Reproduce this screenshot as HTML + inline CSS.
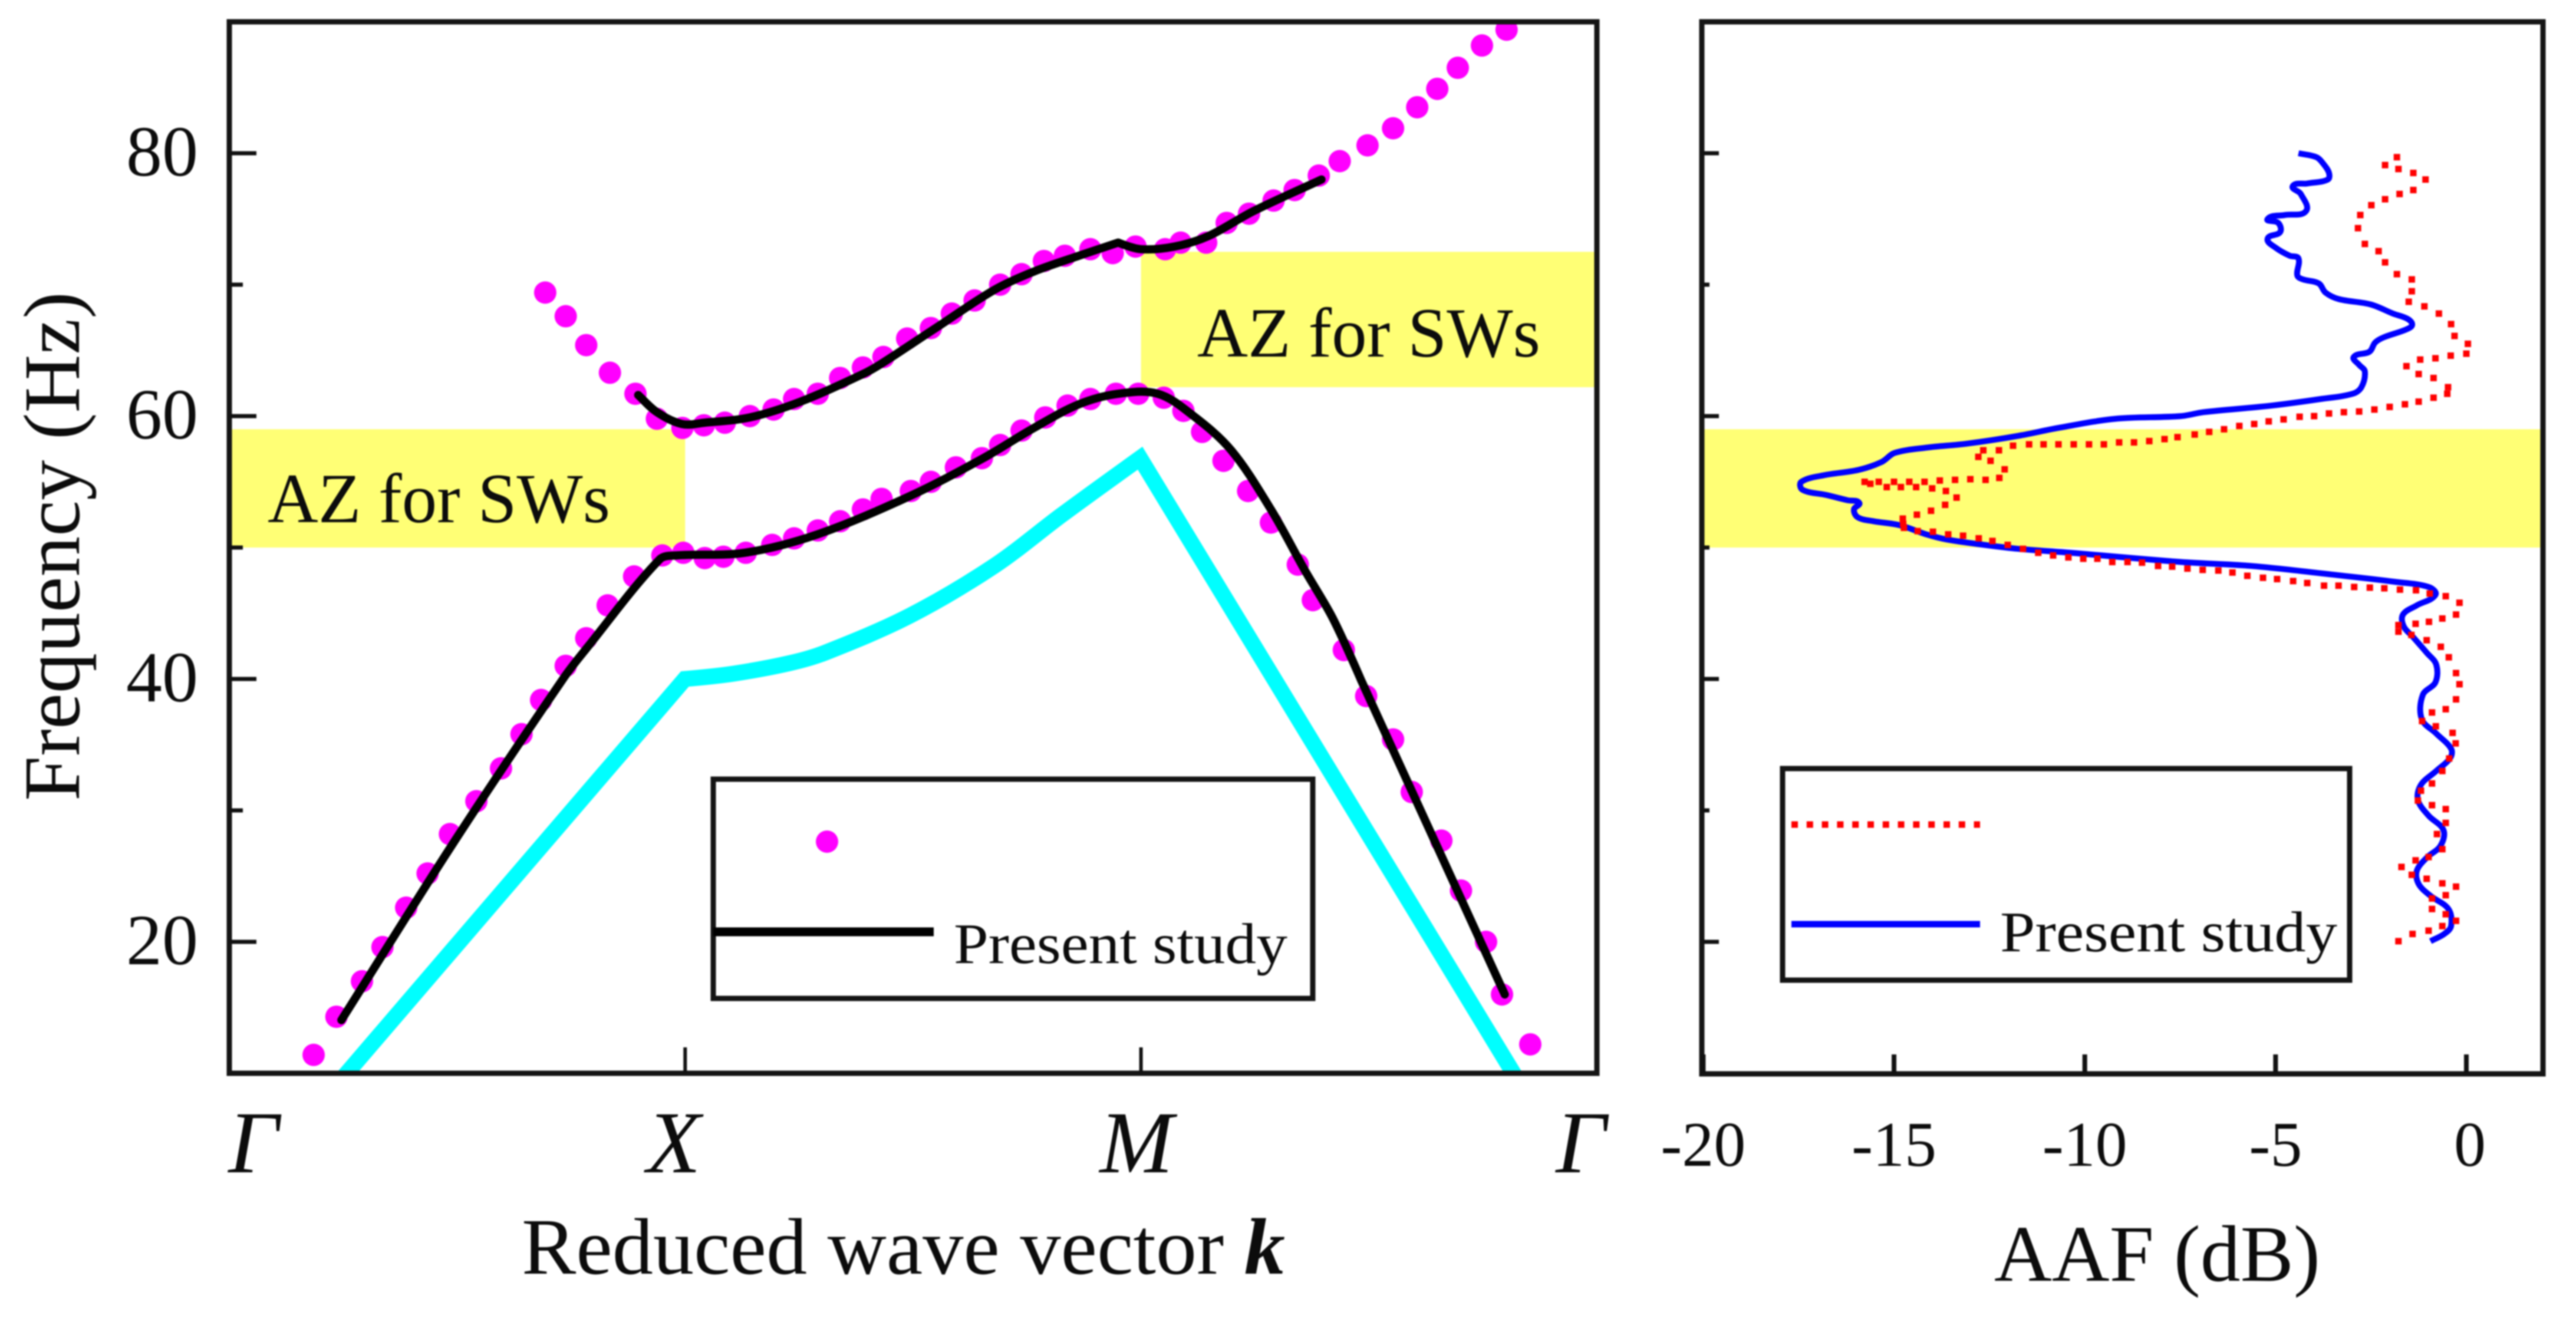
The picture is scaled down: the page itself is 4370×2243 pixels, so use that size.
<!DOCTYPE html>
<html lang="en">
<head>
<meta charset="utf-8">
<title>Frequency band structure and AAF chart</title>
<style>
html,body{margin:0;padding:0;background:#fff;}
svg{display:block;width:4370px;height:2243px;filter:blur(1.4px);font-family:"Liberation Serif",serif;}
text{fill:#0c0c0c;}
</style>
</head>
<body>
<svg id="chart" xmlns="http://www.w3.org/2000/svg" width="4370" height="2243" viewBox="0 0 4370 2243">
  <defs>
    <clipPath id="clip-left"><rect x="389" y="37" width="2320" height="1784"></rect></clipPath>
    <clipPath id="clip-right"><rect x="2887" y="37" width="1427" height="1785"></rect></clipPath>
  </defs>
  <rect x="0" y="0" width="4370" height="2243" fill="#fff"></rect>

  <g id="left-bands"></g>
  <g id="left-series" clip-path="url(#clip-left)"></g>
  <g id="left-axes"></g>

  <text x="454" y="886" font-size="120" textLength="581" lengthAdjust="spacingAndGlyphs">AZ for SWs</text>
  <text x="2031" y="605" font-size="120" textLength="582" lengthAdjust="spacingAndGlyphs">AZ for SWs</text>

  <text transform="translate(134 1359) rotate(-90)" font-size="136" textLength="864" lengthAdjust="spacingAndGlyphs">Frequency (Hz)</text>
  <text x="430" y="1989" font-size="150" font-style="italic" text-anchor="middle">Γ</text>
  <text x="1143" y="1989" font-size="150" font-style="italic" text-anchor="middle">X</text>
  <text x="1928" y="1989" font-size="150" font-style="italic" text-anchor="middle">M</text>
  <text x="2682" y="1989" font-size="150" font-style="italic" text-anchor="middle">Γ</text>
  <text x="885" y="2161" font-size="136" textLength="1295" lengthAdjust="spacingAndGlyphs">Reduced wave vector <tspan font-weight="bold" font-style="italic">k</tspan></text>

  <g>
    <rect x="1210" y="1322" width="1017" height="372" fill="#fff" stroke="#141414" stroke-width="9"></rect>
    <circle cx="1403" cy="1428" r="19" fill="#ff00ff"></circle>
    <line x1="1210" y1="1581" x2="1584" y2="1581" stroke="#000" stroke-width="15"></line>
    <text x="1618" y="1634" font-size="98" textLength="566" lengthAdjust="spacingAndGlyphs">Present study</text>
  </g>

  <g id="right-bands"></g>
  <g id="right-series" clip-path="url(#clip-right)"></g>
  <g id="right-axes"></g>

  <text x="3383" y="2173" font-size="136" textLength="553" lengthAdjust="spacingAndGlyphs">AAF (dB)</text>

  <g id="right-legend">
    <rect x="3024" y="1304" width="962" height="359" fill="#fff" stroke="#141414" stroke-width="9"></rect>
    <line x1="3039" y1="1399" x2="3359" y2="1399" stroke="#ff0000" stroke-width="11" stroke-dasharray="11 14.8"></line>
    <line x1="3039" y1="1568" x2="3359" y2="1568" stroke="#0000ff" stroke-width="11"></line>
    <text x="3393" y="1614" font-size="98" textLength="572" lengthAdjust="spacingAndGlyphs">Present study</text>
  </g>
</svg>

<script>
// ---------- left panel data (k: 0=Gamma, 1=X, 2=M, 3=Gamma; f in Hz) ----------
const freqMajorTicks = [20, 40, 60, 80];
const freqMinorTicks = [30, 50, 70];
const kTicks = [1, 2];

const lowerZoneK = [0, 1];
const lowerZoneF = [59, 50];
const upperZoneK = [2, 3];
const upperZoneF = [72.5, 62.2];

const upperDotsK = [.693,.738,.783,.835,.891,.938,.994,1.041,1.087,1.142,1.194,1.239,1.291,1.340,1.390,1.435,1.487,1.539,1.585,1.635,1.691,1.738,1.787,1.833,1.889,1.938,1.988,2.053,2.087,2.143,2.188,2.237,2.291,2.337,2.390,2.436,2.497,2.553,2.606,2.650,2.695,2.748,2.802];
const upperDotsF = [69.4,67.6,65.4,63.3,61.7,59.8,59.1,59.3,59.5,60.0,60.5,61.3,61.7,62.9,63.7,64.5,65.9,66.7,67.8,68.8,70.0,70.8,71.8,72.2,72.7,72.4,72.9,72.7,73.2,73.2,74.7,75.4,76.4,77.2,78.3,79.4,80.6,81.9,83.5,84.9,86.5,88.2,89.4];

const lowerDotsK = [.185,.235,.291,.336,.388,.435,.484,.542,.596,.641,.684,.738,.783,.830,.888,.950,.996,1.043,1.084,1.133,1.191,1.239,1.291,1.340,1.390,1.431,1.495,1.539,1.594,1.651,1.691,1.738,1.790,1.839,1.889,1.945,1.994,2.050,2.093,2.134,2.181,2.235,2.285,2.344,2.377,2.445,2.494,2.553,2.594,2.659,2.702,2.757,2.792,2.854];
const lowerDotsF = [11.4,14.3,17.0,19.6,22.6,25.2,28.2,30.7,33.2,35.8,38.4,41.0,43.1,45.6,47.8,49.4,49.6,49.2,49.3,49.6,50.2,50.7,51.3,52.0,52.9,53.7,54.3,55.0,56.1,56.8,57.8,58.9,59.9,60.8,61.3,61.7,61.7,61.4,60.4,58.8,56.6,54.3,51.9,48.7,46.0,42.2,38.7,35.4,31.4,27.7,23.9,20.0,16.0,12.2];

const lowerLineK = [.246,.493,.734,.783,.944,.981,1.13,1.29,1.492,1.654,1.765,1.864,1.95,2.037,2.112,2.198,2.285,2.359,2.421,2.483,2.798];
const lowerLineF = [14.05,27.6,40.1,42.3,49.1,49.4,49.6,51.0,53.9,56.8,59.1,60.9,61.7,61.7,60.1,57.4,52.9,48.3,44.6,39.9,16.0];

const upperLineK = [.897,.938,.993,1.043,1.142,1.253,1.39,1.431,1.554,1.678,1.765,1.864,1.95,2.0,2.074,2.148,2.247,2.396];
const upperLineF = [61.6,60.3,59.4,59.5,59.9,61.1,63.2,64.0,66.8,69.6,71.0,72.2,73.2,72.7,72.9,73.7,75.6,78.0];

const cyanLineK = [.245,.9995,1.105,1.229,1.307,1.492,1.678,1.827,1.998,2.826];
const cyanLineF = [9.5,40,40.4,41.2,42.0,44.8,48.6,52.5,56.8,9.5];

// ---------- right panel data (AAF in dB; f in Hz) ----------
const aafTicks = [-20, -15, -10, -5, 0];
const rightZoneF = [59, 50];

const blueAaf = [-4.40,-3.93,-3.75,-3.60,-3.63,-4.17,-4.55,-4.34,-4.20,-4.76,-5.21,-4.93,-4.88,-5.21,-4.99,-4.63,-4.40,-4.43,-4.28,-3.87,-3.69,-3.34,-2.51,-1.92,-1.54,-1.42,-1.57,-2.16,-2.39,-2.54,-2.95,-2.81,-2.66,-2.75,-2.98,-3.82,-5.11,-6.89,-7.48,-9.19,-10.7,-11.74,-13.1,-14.15,-14.98,-15.33,-15.94,-16.84,-17.43,-17.4,-16.78,-16.22,-15.91,-16.05,-15.95,-15.53,-14.85,-14.15,-13.6,-12.63,-11.74,-10.37,-7.48,-5.64,-3.38,-1.89,-.99,-.81,-1.30,-1.66,-1.64,-1.40,-1.04,-.79,-.81,-1.14,-1.17,-.79,-.40,-.42,-.79,-1.19,-1.27,-.99,-.60,-.68,-1.04,-1.30,-1.25,-.94,-.47,-.40,-.58,-.94];
const blueFreq = [80.0,79.7,79.2,78.5,78.0,77.7,77.5,76.9,75.6,75.3,75.0,74.7,74.0,73.5,72.8,72.2,72.0,70.7,70.4,70.1,69.4,68.9,68.5,67.8,67.4,66.95,66.6,66.0,65.6,64.9,64.5,63.9,63.4,62.2,61.7,61.3,60.8,60.3,60.0,59.8,59.1,58.5,57.9,57.6,57.2,56.5,55.9,55.5,55.0,54.4,54.0,53.6,53.4,52.9,52.3,52.0,51.7,51.0,50.6,50.2,49.9,49.6,48.9,48.6,47.9,47.4,47.0,46.4,45.6,44.9,44.0,43.2,42.0,41.1,39.75,38.8,36.95,35.85,34.7,34.0,33.0,31.95,30.8,29.6,28.5,27.3,26.4,25.4,24.4,23.5,22.5,21.2,20.6,20.05];

const redAaf = [-1.82,-2.13,-1.78,-1.39,-1.07,-1.39,-1.75,-2.13,-2.49,-2.78,-2.84,-2.66,-2.30,-2.13,-1.82,-1.43,-1.43,-1.51,-1.10,-.72,-.40,-.31,.04,0,-.41,-.81,-1.21,-1.57,-1.25,-.86,-.48,-.50,-.86,-1.25,-1.61,-2.01,-2.41,-2.81,-3.21,-3.60,-3.99,-4.37,-4.79,-5.18,-5.56,-5.95,-6.35,-6.74,-7.12,-7.57,-7.91,-8.31,-8.71,-9.10,-9.50,-9.89,-10.29,-10.69,-11.08,-11.46,-11.88,-12.25,-12.66,-12.79,-12.47,-12.1,-12.24,-12.6,-13.0,-13.4,-13.8,-14.2,-14.6,-15.0,-15.4,-15.77,-15.62,-15.19,-14.82,-14.42,-14.0,-13.64,-13.36,-13.66,-14.03,-14.4,-14.77,-14.76,-14.74,-14.38,-13.98,-13.58,-13.19,-12.78,-12.42,-12.02,-11.62,-11.22,-10.83,-10.43,-10.04,-9.67,-9.28,-8.88,-8.50,-8.08,-7.71,-7.31,-6.91,-6.5,-6.13,-5.74,-5.33,-4.96,-4.54,-4.17,-3.73,-3.35,-2.94,-2.53,-2.15,-1.74,-1.32,-.96,-.54,-.18,-.27,-.63,-.98,-1.33,-1.78,-1.78,-1.44,-1.04,-.67,-.46,-.27,-.18,-.27,-.54,-.90,-1.16,-.80,-.36,-.28,-.45,-.63,-.90,-1.19,-1.27,-.90,-.54,-.54,-.77,-.63,-.99,-1.33,-1.70,-1.43,-1.04,-.63,-.27,-.54,-.90,-.90,-.54,-.27,-.63,-.99,-1.41,-1.78];
const redFreq = [79.7,79.1,78.8,78.5,78.0,77.2,76.9,76.5,76.05,75.3,74.3,73.1,72.55,71.7,70.8,70.4,69.5,68.7,68.35,67.8,67.0,66.1,65.5,64.75,64.6,64.4,64.3,63.8,63.2,62.9,62.2,61.7,61.4,61.1,60.9,60.7,60.5,60.35,60.3,60.2,60.0,59.95,59.75,59.6,59.4,59.25,59.0,58.8,58.6,58.4,58.25,58.1,58.0,58.0,57.85,57.85,57.85,57.85,57.85,57.85,57.75,57.4,57.4,56.9,56.6,55.95,55.3,55.15,55.2,55.15,55.1,55.0,55.0,55.0,55.0,55.0,54.85,54.6,54.6,54.6,54.5,54.3,53.8,53.25,52.8,52.5,52.2,51.8,51.5,51.25,51.2,51.0,50.9,50.7,50.5,50.2,49.9,49.6,49.4,49.25,49.15,49.15,48.9,48.9,48.85,48.6,48.55,48.4,48.3,48.25,48.1,47.85,47.7,47.6,47.45,47.3,47.1,47.1,47.0,46.95,46.9,46.8,46.75,46.5,46.3,45.8,44.9,44.6,44.35,44.2,44.1,43.6,43.35,42.95,42.45,41.65,40.45,39.6,38.45,37.7,37.45,36.8,36.4,35.9,35.1,33.95,33.0,32.05,31.5,30.75,30.4,30.1,29.05,28.2,27.05,26.45,26.2,25.7,25.1,24.8,24.45,24.2,23.55,23.3,22.5,22.1,21.6,21.2,20.85,20.6,20.05];

// ---------- axis functions ----------
const PLOT_TOP = 37, LEFT_BOTTOM = 1821, RIGHT_BOTTOM = 1822;
const LEFT_L = 389, LEFT_R = 2709, RIGHT_L = 2887, RIGHT_R = 4314;
function xK(k) { return 389 + 773.3 * k; }
function yF(f) { return 1598 - (f - 20) * 22.3; }
function xA(db) { return 4184 + 64.73 * db; }

const SVGNS = 'http://www.w3.org/2000/svg';
function make(tag, attrs, parent) {
  const el = document.createElementNS(SVGNS, tag);
  for (const key in attrs) el.setAttribute(key, attrs[key]);
  parent.appendChild(el);
  return el;
}

// Chord-scaled spline through the mapped data points; `corners` lists point
// indices where the curve keeps a sharp kink.
function smoothPath(xs, ys, fx, fy, corners) {
  const px = xs.map(fx);
  const py = ys.map(fy);
  const sharp = new Set(corners);
  const n = px.length;
  function tangent(i) {
    const a = (i === 0 || sharp.has(i)) ? i : i - 1;
    const b = (i === n - 1 || sharp.has(i)) ? i : i + 1;
    const dx = px[b] - px[a];
    const dy = py[b] - py[a];
    const len = Math.hypot(dx, dy) || 1;
    return [dx / len, dy / len];
  }
  let d = 'M' + px[0].toFixed(1) + ' ' + py[0].toFixed(1);
  for (let i = 0; i < n - 1; i++) {
    const seg = Math.hypot(px[i + 1] - px[i], py[i + 1] - py[i]) / 3;
    const t0 = tangent(i);
    const t1 = tangent(i + 1);
    const c1x = px[i] + t0[0] * seg;
    const c1y = py[i] + t0[1] * seg;
    const c2x = px[i + 1] - t1[0] * seg;
    const c2y = py[i + 1] - t1[1] * seg;
    d += ' C' + c1x.toFixed(1) + ' ' + c1y.toFixed(1) + ' ' + c2x.toFixed(1) + ' ' + c2y.toFixed(1) + ' ' + px[i + 1].toFixed(1) + ' ' + py[i + 1].toFixed(1);
  }
  return d;
}

const leftBands = document.getElementById('left-bands');
const leftSeries = document.getElementById('left-series');
const leftAxes = document.getElementById('left-axes');
const rightBands = document.getElementById('right-bands');
const rightSeries = document.getElementById('right-series');
const rightAxes = document.getElementById('right-axes');

// ---------- attenuation zones ----------
const zoneLower = make('rect', {x: xK(lowerZoneK[0]), y: yF(lowerZoneF[0]), width: xK(lowerZoneK[1]) - xK(lowerZoneK[0]), height: yF(lowerZoneF[1]) - yF(lowerZoneF[0]), fill: '#ffff75'}, leftBands);


const zoneUpper = make('rect', {x: xK(upperZoneK[0]), y: yF(upperZoneF[0]), width: xK(upperZoneK[1]) - xK(upperZoneK[0]), height: yF(upperZoneF[1]) - yF(upperZoneF[0]), fill: '#ffff75'}, leftBands);


const zoneRight = make('rect', {x: RIGHT_L, y: yF(rightZoneF[0]), width: RIGHT_R - RIGHT_L, height: yF(rightZoneF[1]) - yF(rightZoneF[0]), fill: '#ffff75'}, rightBands);



// ---------- left series ----------
const cyanLine = make('path', {d: smoothPath(cyanLineK, cyanLineF, xK, yF, [1, 8]), fill: 'none', stroke: '#00ffff', 'stroke-width': 27, 'stroke-linejoin': 'miter', 'stroke-miterlimit': 6}, leftSeries);



upperDotsK.forEach((k, i) => {
  const dot = make('circle', {cx: xK(k), cy: yF(upperDotsF[i]), r: 19, fill: '#ff00ff'}, leftSeries);
  
  
});
lowerDotsK.forEach((k, i) => {
  const dot = make('circle', {cx: xK(k), cy: yF(lowerDotsF[i]), r: 19, fill: '#ff00ff'}, leftSeries);
  
  
});

const lowerLine = make('path', {d: smoothPath(lowerLineK, lowerLineF, xK, yF, [19]), fill: 'none', stroke: '#000', 'stroke-width': 14, 'stroke-linejoin': 'round', 'stroke-linecap': 'round'}, leftSeries);


const upperLine = make('path', {d: smoothPath(upperLineK, upperLineF, xK, yF, [12]), fill: 'none', stroke: '#000', 'stroke-width': 14, 'stroke-linejoin': 'round', 'stroke-linecap': 'round'}, leftSeries);



// ---------- left axes ----------
const leftFrame = make('rect', {x: LEFT_L, y: PLOT_TOP, width: LEFT_R - LEFT_L, height: LEFT_BOTTOM - PLOT_TOP, fill: 'none', stroke: '#151515', 'stroke-width': 9}, leftAxes);



freqMajorTicks.forEach(f => {
  const tick = make('line', {x1: LEFT_L, y1: yF(f), x2: LEFT_L + 46, y2: yF(f), stroke: '#111', 'stroke-width': 7}, leftAxes);
  
  
  const label = make('text', {x: 336, y: yF(f) + 38, 'font-size': 122, 'text-anchor': 'end'}, leftAxes);
  
  
  label.textContent = String(f);
});
freqMinorTicks.forEach(f => {
  const tick = make('line', {x1: LEFT_L, y1: yF(f), x2: LEFT_L + 23, y2: yF(f), stroke: '#111', 'stroke-width': 7}, leftAxes);
  
  
});
kTicks.forEach(k => {
  const tick = make('line', {x1: xK(k), y1: LEFT_BOTTOM, x2: xK(k), y2: LEFT_BOTTOM - 44, stroke: '#111', 'stroke-width': 6}, leftAxes);
  
  
});

// ---------- right series ----------
const blueLine = make('path', {d: smoothPath(blueAaf, blueFreq, xA, yF, []), fill: 'none', stroke: '#0000ff', 'stroke-width': 10, 'stroke-linejoin': 'round'}, rightSeries);



redAaf.forEach((db, i) => {
  const dot = make('rect', {x: xA(db) - 5.5, y: yF(redFreq[i]) - 5.5, width: 11, height: 11, fill: '#ff0000'}, rightSeries);
  
  
});

// ---------- right axes ----------
const rightFrame = make('rect', {x: RIGHT_L, y: PLOT_TOP, width: RIGHT_R - RIGHT_L, height: RIGHT_BOTTOM - PLOT_TOP, fill: 'none', stroke: '#151515', 'stroke-width': 9}, rightAxes);



freqMajorTicks.forEach(f => {
  const tick = make('line', {x1: RIGHT_L, y1: yF(f), x2: RIGHT_L + 29, y2: yF(f), stroke: '#111', 'stroke-width': 7}, rightAxes);
  
  
});
freqMinorTicks.forEach(f => {
  const tick = make('line', {x1: RIGHT_L, y1: yF(f), x2: RIGHT_L + 13, y2: yF(f), stroke: '#111', 'stroke-width': 7}, rightAxes);
  
  
});
aafTicks.forEach(db => {
  const tick = make('line', {x1: xA(db), y1: RIGHT_BOTTOM, x2: xA(db), y2: RIGHT_BOTTOM - 33, stroke: '#111', 'stroke-width': 8}, rightAxes);
  
  
  const label = make('text', {x: xA(db) + (db === 0 ? 6 : 0), y: 1978, 'font-size': 108, 'text-anchor': 'middle'}, rightAxes);
  
  
  label.textContent = String(db);
});
</script>
</body>
</html>
